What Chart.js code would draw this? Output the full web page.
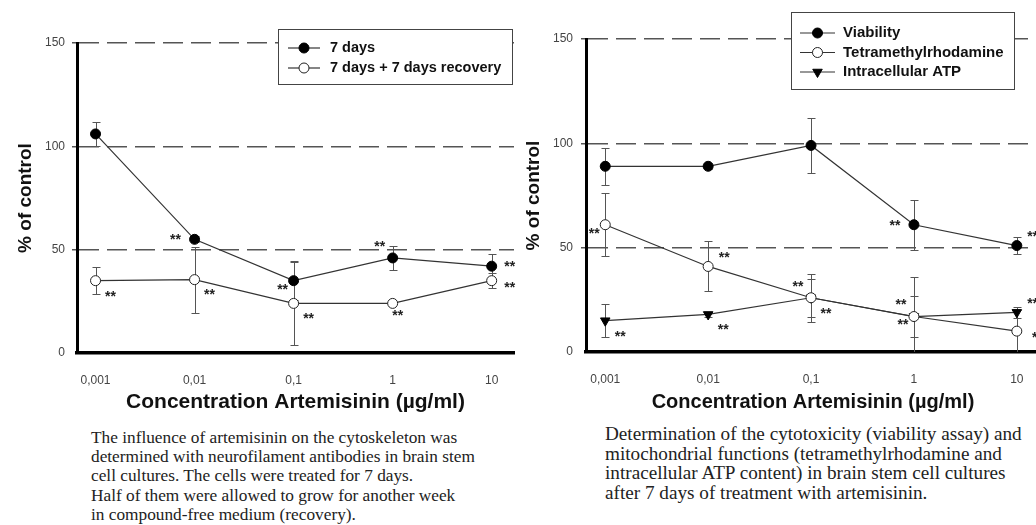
<!DOCTYPE html>
<html>
<head>
<meta charset="utf-8">
<script src="https://cdn.jsdelivr.net/npm/chart.js@4.4.1/dist/chart.umd.min.js"></script>
<style>
body { margin: 0; background: #fff; width: 1036px; height: 525px; overflow: hidden; position: relative; }
.panel { position: absolute; top: 0; }
#leftBox { left: 0; }
#rightBox { left: 520px; }
.caption { position: absolute; font-family: 'Liberation Serif', 'Times New Roman', serif; color: #222; white-space: nowrap; }
#capLeft { left: 91px; top: 428px; font-size: 17.3px; line-height: 19.2px; }
#capRight { left: 605px; top: 424px; font-size: 19.2px; line-height: 19.6px; }
</style>
</head>
<body>
<div class="panel" id="leftBox"><canvas id="leftChart" width="520" height="420"></canvas></div>
<div class="panel" id="rightBox"><canvas id="rightChart" width="540" height="420"></canvas></div>

<div class="caption" id="capLeft">The influence of artemisinin on the cytoskeleton was<br>determined with neurofilament antibodies in brain stem<br>cell cultures. The cells were treated for 7 days.<br>Half of them were allowed to grow for another week<br>in compound-free medium (recovery).</div>
<div class="caption" id="capRight">Determination of the cytotoxicity (viability assay) and<br>mitochondrial functions (tetramethylrhodamine and<br>intracellular ATP content) in brain stem cell cultures<br>after 7 days of treatment with artemisinin.</div>

<script>
// data
const concentrations = [0.001, 0.01, 0.1, 1, 10];
const tickLabels = ['0,001', '0,01', '0,1', '1', '10'];
const yTicks = [0, 50, 100, 150];

// left panel
const days7 = [106, 55, 35, 46, 42];
const days7Err = [6, 1.5, 9.5, 6, 6];
const days7Sig = ['', '**', '**', '**', '**'];
const recovery = [35, 35.5, 24, 24, 35];
const recoveryErr = [6.5, 16, 20, 0, 3.5];
const recoverySig = ['**', '**', '**', '**', '**'];

// right panel
const viability = [89, 89, 99, 61, 51];
const viabilityErr = [9, 1.5, 13, 12, 4];
const viabilitySig = ['', '', '', '**', '**'];
const tmrm = [61, 41, 26, 17, 10];
const tmrmErr = [15, 12, 11.5, 19, 10];
const tmrmSig = ['**', '**', '**', '**', '*'];
const atp = [15, 18, 26, 17, 19];
const atpErr = [8, 1, 9, 10, 2.5];
const atpSig = ['**', '**', '**', '**', '**'];

// where the asterisks sit around a point
const starOffsets = {
    l: [-19, 1], r: [18, 1], ul: [-13, -11], ur: [16, -8],
    br: [15, 16], bl: [-11, 9], b: [5, 13], rb: [18, 7]
};

Chart.defaults.font.family = "'Liberation Sans', Arial, sans-serif";

function pts(vals) {
    return concentrations.map((c, i) => ({ x: c, y: vals[i] }));
}

function series(label, vals, errs, sig, starPos, style) {
    const filled = style !== 'open';
    return {
        label: label,
        data: pts(vals),
        errors: errs,
        sig: sig,
        starPos: starPos,
        borderColor: '#333',
        borderWidth: 1.2,
        tension: 0,
        pointStyle: style === 'tri' ? 'triangle' : 'circle',
        pointRotation: style === 'tri' ? 180 : 0,
        pointRadius: style === 'tri' ? 5.5 : 5,
        pointBackgroundColor: filled ? '#000' : '#fff',
        pointBorderColor: filled ? '#000' : '#222',
        pointBorderWidth: 1
    };
}

const errorBars = {
    id: 'errorBars',
    beforeDatasetsDraw(chart) {
        const { ctx, chartArea, scales: { y } } = chart;
        ctx.save();
        ctx.beginPath();
        ctx.rect(chartArea.left, chartArea.top, chartArea.width, chartArea.height);
        ctx.clip();
        ctx.strokeStyle = '#555';
        ctx.lineWidth = 1;
        chart.data.datasets.forEach((ds, di) => {
            chart.getDatasetMeta(di).data.forEach((pt, i) => {
                const e = ds.errors[i];
                if (!e) return;
                const v = ds.data[i].y;
                const top = Math.round(y.getPixelForValue(v + e)) + 0.5;
                const bot = Math.round(y.getPixelForValue(v - e)) + 0.5;
                const x = Math.round(pt.x) + 0.5;
                ctx.beginPath();
                ctx.moveTo(x, top); ctx.lineTo(x, bot);
                ctx.moveTo(x - 4, top); ctx.lineTo(x + 4, top);
                ctx.moveTo(x - 4, bot); ctx.lineTo(x + 4, bot);
                ctx.stroke();
            });
        });
        ctx.restore();
    }
};

const stars = {
    id: 'stars',
    afterDatasetsDraw(chart) {
        const ctx = chart.ctx;
        ctx.save();
        ctx.font = "bold 14px 'Liberation Sans', Arial, sans-serif";
        ctx.fillStyle = '#222';
        ctx.textAlign = 'center';
        ctx.textBaseline = 'middle';
        chart.data.datasets.forEach((ds, di) => {
            chart.getDatasetMeta(di).data.forEach((pt, i) => {
                if (!ds.sig[i]) return;
                const off = starOffsets[ds.starPos[i]];
                ctx.fillText(ds.sig[i], pt.x + off[0], pt.y + off[1]);
            });
        });
        ctx.restore();
    }
};

function drawMarker(ctx, ds, x, y) {
    ctx.beginPath();
    if (ds.pointStyle === 'triangle') {
        const r = ds.pointRadius;
        ctx.moveTo(x, y + r);
        ctx.lineTo(x - r * 0.866, y - r / 2);
        ctx.lineTo(x + r * 0.866, y - r / 2);
        ctx.closePath();
    } else {
        ctx.arc(x, y, ds.pointRadius, 0, Math.PI * 2);
    }
    ctx.fillStyle = ds.pointBackgroundColor;
    ctx.strokeStyle = ds.pointBorderColor;
    ctx.lineWidth = 1;
    ctx.fill();
    ctx.stroke();
}

const boxLegend = {
    id: 'boxLegend',
    afterDraw(chart, args, o) {
        const ctx = chart.ctx;
        ctx.save();
        ctx.fillStyle = '#fff';
        ctx.fillRect(o.x, o.y, o.w, o.h);
        ctx.strokeStyle = '#444';
        ctx.lineWidth = 1;
        ctx.strokeRect(o.x + 0.5, o.y + 0.5, o.w, o.h);
        chart.data.datasets.forEach((ds, i) => {
            const cy = o.y + o.first + i * o.lineH;
            const x0 = o.x + o.sx;
            ctx.strokeStyle = ds.borderColor;
            ctx.lineWidth = 1.2;
            ctx.beginPath();
            ctx.moveTo(x0, cy); ctx.lineTo(x0 + o.sw, cy);
            ctx.stroke();
            drawMarker(ctx, ds, x0 + o.sw / 2, cy);
            ctx.fillStyle = '#111';
            ctx.font = 'bold ' + o.fs + "px 'Liberation Sans', Arial, sans-serif";
            ctx.textBaseline = 'middle';
            ctx.fillText(ds.label, o.x + o.tx, cy);
        });
        ctx.restore();
    }
};

function makeChart(id, datasets, lay, legendBox) {
    return new Chart(document.getElementById(id), {
        type: 'line',
        data: { datasets: datasets },
        options: {
            responsive: false,
            animation: false,
            layout: { padding: { left: 0, right: lay.right, top: lay.top, bottom: 0 } },
            plugins: {
                legend: { display: false },
                tooltip: { enabled: false },
                boxLegend: legendBox
            },
            scales: {
                x: {
                    type: 'logarithmic',
                    min: 0.00065,
                    max: 16.8,
                    afterBuildTicks: s => { s.ticks = concentrations.map(v => ({ value: v })); },
                    afterFit: s => { s.height = lay.xh; },
                    grid: { display: false },
                    border: { display: true, color: '#000', width: 3.5 },
                    ticks: {
                        callback: (v, i) => tickLabels[i],
                        font: { size: 12 },
                        color: '#444',
                        padding: 12,
                        maxRotation: 0,
                        autoSkip: false
                    },
                    title: {
                        display: true,
                        text: 'Concentration Artemisinin (µg/ml)',
                        font: { size: lay.xfs, weight: 'bold' },
                        color: '#111',
                        padding: { top: 0, bottom: lay.xtb }
                    }
                },
                y: {
                    min: 0,
                    max: 150,
                    afterBuildTicks: s => { s.ticks = yTicks.map(v => ({ value: v })); },
                    afterFit: s => { s.width = lay.yw; },
                    grid: {
                        color: c => (c.tick && c.tick.value === 0) ? 'rgba(0,0,0,0)' : '#555',
                        lineWidth: 1.5,
                        tickLength: 5
                    },
                    border: { display: true, color: '#000', width: 3, dash: [20, 8] },
                    ticks: { font: { size: 12 }, color: '#444', padding: lay.ytp },
                    title: {
                        display: true,
                        text: '% of control',
                        font: { size: 19, weight: 'bold' },
                        color: '#111',
                        padding: { top: lay.ytt, bottom: 0 }
                    }
                }
            }
        },
        plugins: [errorBars, stars, boxLegend]
    });
}

makeChart('leftChart', [
    series('7 days', days7, days7Err, days7Sig, [null, 'l', 'bl', 'ul', 'r'], 'filled'),
    series('7 days + 7 days recovery', recovery, recoveryErr, recoverySig, ['br', 'br', 'br', 'b', 'rb'], 'open')
], { right: 0, top: 43, xh: 67, yw: 77, xtb: 5, ytp: 7, ytt: 14, xfs: 21 },
   { x: 278, y: 29, w: 234, h: 55, first: 19, lineH: 20, sx: 10, sw: 32, tx: 52, fs: 14.5 });

makeChart('rightChart', [
    series('Viability', viability, viabilityErr, viabilitySig, [null, null, null, 'l', 'ur'], 'filled'),
    series('Tetramethylrhodamine', tmrm, tmrmErr, tmrmSig, ['bl', 'ur', 'ul', 'bl', 'rb'], 'open'),
    series('Intracellular ATP', atp, atpErr, atpSig, ['br', 'br', 'br', 'ul', 'ur'], 'tri')
], { right: 20, top: 39, xh: 68, yw: 66, xtb: 6, ytp: 8, ytt: 2, xfs: 20 },
   { x: 271, y: 12, w: 223, h: 77, first: 21, lineH: 19.5, sx: 9, sw: 35, tx: 52, fs: 15 });
</script>
</body>
</html>
